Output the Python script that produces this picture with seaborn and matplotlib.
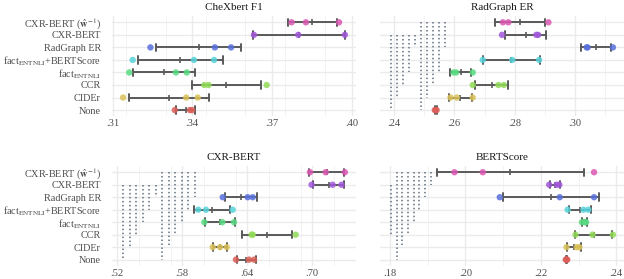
import numpy as np
import pandas as pd
import matplotlib
matplotlib.use("Agg")
import matplotlib.pyplot as plt
import seaborn as sns
from matplotlib.ticker import FixedLocator, MultipleLocator

# ---------------- data ----------------
methods = [r"CXR-BERT ($\hat{\mathbf{w}}^{-1}$)", "CXR-BERT", "RadGraph ER",
           r"fact$_{\mathrm{ENTNLI}}$+BERTScore", r"fact$_{\mathrm{ENTNLI}}$",
           "CCR", "CIDEr", "None"]
metrics = ["CheXbert F1", "RadGraph ER", "CXR-BERT", "BERTScore"]

# three runs per method (rows follow `methods`)
chexbert_f1 = [[.3774, .3828, .3953], [.3632, .3799, .3975], [.3242, .3485, .3546],
               [.3175, .3406, .3482], [.3162, .3338, .3379], [.3445, .3461, .3680],
               [.3139, .3377, .3420], [.3334, .3391, .3399]]
radgraph_er = [[.2761, .2779, .2912], [.2758, .2872, .2878], [.3039, .3042, .3126],
               [.2694, .2792, .2881], [.2597, .2606, .2661], [.2661, .2746, .2764],
               [.2587, .2608, .2661], [.2535, .2538, .2541]]
cxr_bert = [[.6982, .7127, .7305], [.6997, .7191, .7274], [.6176, .6406, .6453],
            [.5950, .6021, .6268], [.6006, .6172, .6280], [.6443, .6453, .6850],
            [.6083, .6151, .6213], [.6298, .6418, .6465]]
bertscore = [[.1971, .2046, .2341], [.2222, .2242, .2249], [.2091, .2250, .2341],
             [.2271, .2313, .2326], [.2309, .2317, .2320], [.2292, .2337, .2391],
             [.2268, .2295, .2302], [.2266, .2268, .2270]]

# pairs joined by dotted brackets (index into `methods`)
pairs_chexbert = []
pairs_radgraph = [(1, 7), (1, 6), (1, 5), (1, 4), (1, 2),
                  (0, 7), (0, 6), (0, 5), (0, 4), (0, 2)]
pairs_cxrbert = [(1, 7), (1, 6), (1, 5), (1, 4), (1, 3), (1, 2),
                 (0, 7), (0, 6), (0, 5), (0, 4), (0, 3), (0, 2)]
pairs_bertscore = [(1, 5), (0, 7), (0, 6), (0, 5), (0, 4), (0, 3), (0, 2), (0, 1)]

ticks_chexbert = [.31, .34, .37, .40]
ticks_radgraph = [.24, .26, .28, .30]
ticks_cxrbert = [.52, .58, .64, .70]
ticks_bertscore = [.18, .20, .22, .24]

# ---------------- layout / style ----------------
series = [chexbert_f1, radgraph_er, cxr_bert, bertscore]
pairs = [pairs_chexbert, pairs_radgraph, pairs_cxrbert, pairs_bertscore]
ticks = [ticks_chexbert, ticks_radgraph, ticks_cxrbert, ticks_bertscore]
bracket_x = [(0, 0), (.2390, .00197), (.5255, .0060), (.1803, .0015)]  # start, step
axes_pos = [[0.1795, 0.583, 0.391, 0.3595], [0.609, 0.583, 0.391, 0.3595],
            [0.1795, 0.047, 0.391, 0.358], [0.609, 0.047, 0.391, 0.358]]

sns.set_theme(style="whitegrid")
plt.rcParams["font.family"] = ["Liberation Serif", "DejaVu Serif"]
plt.rcParams["mathtext.fontset"] = "stix"

pal = sns.color_palette("hls", 8)
colors = dict(zip(methods[::-1], pal))

rows = []
for metric, arr in zip(metrics, series):
    for m, vals in zip(methods, arr):
        for v in vals:
            rows.append((metric, m, v))
df = pd.DataFrame(rows, columns=["metric", "method", "value"])

fig = plt.figure(figsize=(6.24, 2.79), dpi=100)
txt_col = "#4d4d4d"

for k, metric in enumerate(metrics):
    ax = fig.add_axes(axes_pos[k])
    sub = df[df.metric == metric]

    # dotted brackets
    x0, dx = bracket_x[k]
    bx = []
    for j, (a, b) in enumerate(pairs[k]):
        xx = x0 + j * dx
        bx.append(xx)
        ax.plot([xx, xx], [a, b], ls=(0, (1, 1.6)), color="#5f6f7f", lw=1.1, zorder=1)

    sns.pointplot(data=sub, x="value", y="method", order=methods, errorbar="sd",
                  capsize=0.6, color="#5a5a5a", marker="|", linestyle="none",
                  markersize=5, markeredgewidth=1.2, err_kws={"linewidth": 1.4},
                  ax=ax, zorder=2)
    sns.stripplot(data=sub, x="value", y="method", order=methods, hue="method",
                  hue_order=methods, palette=colors, jitter=False, size=4.6,
                  alpha=0.85, linewidth=0, legend=False, ax=ax, zorder=3)

    vals = np.concatenate([np.ravel(series[k]), np.array(bx)]) if bx else np.ravel(series[k])
    lo, hi = vals.min(), vals.max()
    r = hi - lo
    ax.set_xlim(lo - 0.05 * r, hi + 0.05 * r)
    ax.set_ylim(7.5, -0.5)

    ax.xaxis.set_major_locator(FixedLocator(ticks[k]))
    step = ticks[k][1] - ticks[k][0]
    ax.xaxis.set_minor_locator(MultipleLocator(step / 2))
    ax.set_xticklabels([f"{t:.2f}".lstrip("0") for t in ticks[k]])
    ax.set_yticks(range(len(methods)))
    if k % 2 == 0:
        ax.set_yticklabels(methods)
    else:
        ax.set_yticklabels([])

    ax.grid(which="major", axis="both", color="#ebebeb", lw=1.0)
    ax.grid(which="minor", axis="x", color="#f3f3f3", lw=0.7)
    ax.set_axisbelow(True)
    for s in ax.spines.values():
        s.set_visible(False)
    ax.tick_params(axis="x", which="both", length=0, labelsize=7.6,
                   labelcolor=txt_col, pad=2)
    ax.tick_params(axis="y", which="both", length=0, labelsize=7.3,
                   labelcolor=txt_col, pad=8)
    ax.set_xlabel("")
    ax.set_ylabel("")
    ax.set_title(metric, fontsize=8, color="#1a1a1a", pad=4)

fig.savefig("out.png", dpi=100)
